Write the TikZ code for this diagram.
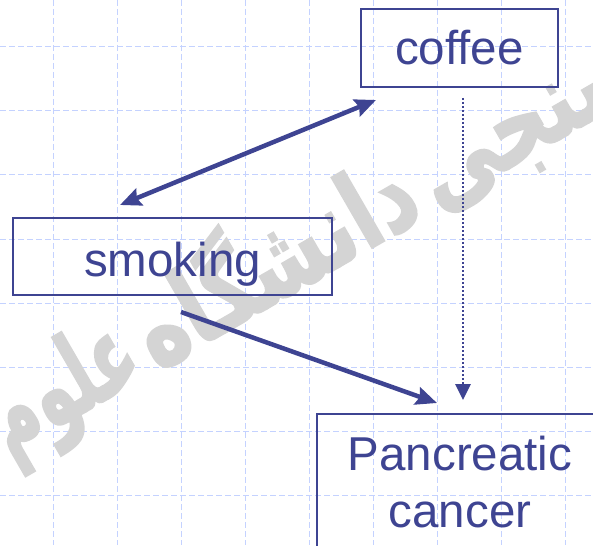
\documentclass[tikz,border=0pt]{standalone}
\usepackage{fontspec}
\setmainfont{Liberation Sans}
\newfontfamily\arabicfont[Script=Arabic,FakeBold=2]{DejaVu Sans}
\TeXXeTstate=1
\usetikzlibrary{arrows.meta}
\definecolor{ink}{RGB}{62,68,146}
\definecolor{gridc}{RGB}{196,210,255}
\definecolor{wmc}{RGB}{212,212,212}
\begin{document}
\begin{tikzpicture}[x=1pt,y=-1pt,
  gridline/.style={draw=gridc,line width=1pt,dash pattern=on 6pt off 3pt},
  box/.style={draw=ink,line width=1.8pt,inner sep=0pt},
  lbl/.style={text=ink,font=\fontsize{47.5}{57}\selectfont,inner sep=0pt},
  arr/.style={draw=ink,line width=4.5pt,>={Stealth[length=21pt,width=18pt,inset=3pt]}},
  dotarr/.style={draw=ink,line width=2.8pt,dash pattern=on 2pt off 2pt,>={Triangle[length=16pt,width=15pt]}},
  wmark/.style={text=wmc,font=\arabicfont\bfseries\fontsize{82}{90}\selectfont,inner sep=0pt,anchor=base,rotate=30}
]
\useasboundingbox (0,0) rectangle (593,545);
\clip (0,0) rectangle (593,545);
\fill[white] (0,0) rectangle (593,545);
% grid
\foreach \x in {53,117,...,565} \draw[gridline] (\x,0) -- (\x,545);
\foreach \y in {47,111,...,495} \draw[gridline] (0,\y) -- (593,\y);
% watermark
\node[wmark,yscale=1.3] (wm1) at (548,146) {\beginR سنجی\endR};
\node[wmark,yscale=1.3] (wm2) at (292,294) {\beginR دانشگاه\endR};
\node[wmark,xscale=0.8,yscale=1.3] (wm3) at (78,416) {\beginR علوم\endR};
% boxes
\node[box,minimum width=197pt,minimum height=78pt] (coffee) at (459.5,48) {};
\node[box,minimum width=319pt,minimum height=77pt] (smoking) at (172.5,256.5) {};
\node[box,minimum width=400pt,minimum height=300pt,anchor=north west] (cancer) at (316,413) {};
% labels
\node[lbl,anchor=base] (coffeeT) at (459.5,65) {coffee};
\node[lbl,anchor=base] (smokingT) at (172.5,276) {smoking};
\node[lbl,align=center] (cancerT) at (460,482) {Pancreatic\\cancer};
% connectors
\coordinate (dA) at (120,205);
\coordinate (dB) at (376,100);
\coordinate (sA) at (181,312);
\coordinate (sB) at (437,403);
\coordinate (cA) at (463,98);
\coordinate (cB) at (463,400);
\draw[arr,<->] (dA) -- (dB);
\draw[arr,->] (sA) -- (sB);
\draw[dotarr,->] (cA) -- (cB);
\end{tikzpicture}
\end{document}
